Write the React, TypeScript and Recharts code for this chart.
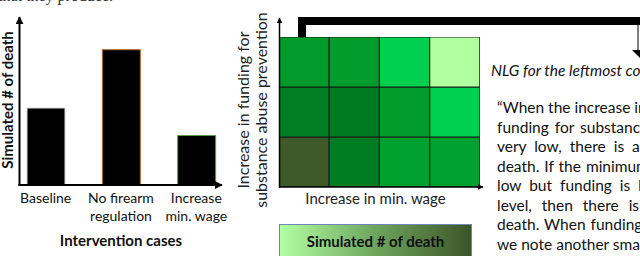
import React from 'react';
import { BarChart, Bar, XAxis, YAxis, Cell, Label } from 'recharts';

// ─── Data ─────────────────────────────────────────────────────────────────────

const CASES = ['Baseline', 'No firearm\nregulation', 'Increase\nmin. wage'];
const DEATHS = [70, 123, 45];
const OUTLINES = ['#d8d8d8', '#b8642a', '#5f9a45'];

const WAGE_LEVELS = ['w1', 'w2', 'w3', 'w4'];
const FUNDING_KEYS = ['low', 'mid', 'high']; // bottom → top
// colour of each cell (rows = funding low→high, cols = wage low→high)
const CELL_COLORS = [
  ['#3d5a28', '#007d22', '#00a12f', '#00a12f'],
  ['#007e21', '#007a20', '#009d2c', '#00d04f'],
  ['#009b2b', '#009d2c', '#00d04f', '#b0ffa0'],
];

const NLG_LINES = [
  '\u201CWhen the increase in',
  'funding for substance',
  'very low, there is a',
  'death. If the minimum',
  'low but funding is b',
  'level, then there is',
  'death. When funding',
  'we note another small',
];
const NLG_SPACING = [0, 2, 4, 1, 4, 6, 1, 0];

const FONT = 'Lato, "Open Sans", sans-serif';

// ─── Bar chart ────────────────────────────────────────────────────────────────

function CaseTick({ x, y, payload }: any) {
  const lines = String(payload.value).split('\n');
  return (
    <text x={x} y={y} textAnchor="middle" fontFamily={FONT} fontSize={14} fill="#111">
      {lines.map((l, i) => (
        <tspan key={i} x={x} dy={i === 0 ? 10 : 18}>{l}</tspan>
      ))}
    </text>
  );
}

function CasesChart() {
  const data = CASES.map((c, i) => ({ name: c, deaths: DEATHS[i] }));
  return (
    <BarChart width={234} height={256} data={data} margin={{ top: 20, right: 0, left: 0, bottom: 0 }}
              barSize={38}>
      <XAxis dataKey="name" height={71} axisLine={false} tickLine={false} interval={0}
             tick={<CaseTick />}>
        <Label content={() => (
          <text x={121} y={246} textAnchor="middle" fontFamily={FONT} fontSize={15}
                fontWeight={700} fill="#111">Intervention cases</text>
        )} />
      </XAxis>
      <YAxis width={8} domain={[0, 150]} axisLine={false} tickLine={false} tick={false}>
        <Label content={() => (
          <text x={13} y={100} transform="rotate(-90 13 100)" textAnchor="middle" fontFamily={FONT}
                fontSize={15} fontWeight={700} fill="#111">Simulated # of death</text>
        )} />
      </YAxis>
      <Bar dataKey="deaths" isAnimationActive={false} fill="#000" strokeWidth={1}>
        {data.map((d, i) => <Cell key={d.name} fill="#000" stroke={OUTLINES[i]} />)}
      </Bar>
    </BarChart>
  );
}

// ─── Heat map ─────────────────────────────────────────────────────────────────

function HeatMap() {
  const data = WAGE_LEVELS.map((w) => {
    const row: any = { wage: w };
    FUNDING_KEYS.forEach((k) => { row[k] = 1; });
    return row;
  });
  return (
    <BarChart width={201} height={150} data={data} margin={{ top: 0, right: 0, left: 0, bottom: 0 }}
              barCategoryGap={0}>
      <XAxis dataKey="wage" hide />
      <YAxis hide domain={[0, 3]} />
      {FUNDING_KEYS.map((k, r) => (
        <Bar key={k} dataKey={k} stackId="cells" isAnimationActive={false} stroke="#1a1a1a" strokeWidth={1}>
          {data.map((d, c) => <Cell key={d.wage} fill={CELL_COLORS[r][c]} />)}
        </Bar>
      ))}
    </BarChart>
  );
}

// ─── Page ─────────────────────────────────────────────────────────────────────

export default function App() {
  return (
    <div style={{ position: 'absolute', left: 0, top: 0, width: 640, height: 256, overflow: 'hidden',
                  background: '#fff', fontFamily: FONT }}>
      {/* caption remnant from the page above */}
      <div style={{ position: 'absolute', left: -2, top: -13, fontFamily: '"Liberation Serif", serif',
                    fontSize: 16, color: '#333', whiteSpace: 'nowrap' }}>that they produce.</div>

      <div style={{ position: 'absolute', left: 0, top: 0 }}><CasesChart /></div>

      <div style={{ position: 'absolute', left: 279, top: 37 }}><HeatMap /></div>

      {/* heat map axis titles */}
      <div style={{ position: 'absolute', left: 270, top: 189, width: 211, textAlign: 'center',
                    fontSize: 15, color: '#222', whiteSpace: 'nowrap' }}>Increase in min. wage</div>
      <div style={{ position: 'absolute', left: 254 - 100, top: 110 - 20, width: 200, height: 40,
                    transform: 'rotate(-90deg)', textAlign: 'center', fontSize: 16, lineHeight: '18px',
                    color: '#222', whiteSpace: 'nowrap' }}>
        Increase in funding for<br />substance abuse prevention
      </div>

      {/* colour scale */}
      <div style={{ position: 'absolute', left: 279, top: 224, width: 193, height: 34, boxSizing: 'border-box',
                    border: '1px solid #6f86b8', background: 'linear-gradient(to right, #b2ffa2, #6ea55e 50%, #3c5527)',
                    textAlign: 'center', lineHeight: '32px', fontWeight: 700, fontSize: 15, color: '#111' }}>
        Simulated # of death
      </div>

      {/* generated text */}
      <div style={{ position: 'absolute', left: 491, top: 61, fontStyle: 'italic', fontSize: 15.5,
                    whiteSpace: 'nowrap', color: '#111' }}>NLG for the leftmost column</div>
      {NLG_LINES.map((l, i) => (
        <div key={i} style={{ position: 'absolute', left: 497, top: 98 + i * 19.5, fontSize: 15.5,
                              whiteSpace: 'nowrap', wordSpacing: NLG_SPACING[i], color: '#111' }}>{l}</div>
      ))}

      {/* axes arrows and connector */}
      <svg width={640} height={256} style={{ position: 'absolute', left: 0, top: 0, pointerEvents: 'none' }}>
        <defs>
          <marker id="ah" viewBox="0 0 10 10" refX="9" refY="5" markerWidth="4" markerHeight="4" orient="auto">
            <path d="M0,0 L10,5 L0,10 z" fill="#000" />
          </marker>
        </defs>
        <line x1={19.5} y1={186} x2={19.5} y2={17} stroke="#000" strokeWidth={2} markerEnd="url(#ah)" />
        <line x1={18.5} y1={185} x2={222} y2={185} stroke="#000" strokeWidth={2} markerEnd="url(#ah)" />
        <line x1={279.5} y1={188} x2={279.5} y2={18} stroke="#000" strokeWidth={1.5} markerEnd="url(#ah)" />
        <line x1={279} y1={187} x2={483} y2={187} stroke="#000" strokeWidth={1.5} markerEnd="url(#ah)" />
        <path d="M302,37 L302,21 L645,21" fill="none" stroke="#000" strokeWidth={8} />
        <line x1={638} y1={25} x2={638} y2={52} stroke="#000" strokeWidth={1} />
        <path d="M632,50 L640,50 L640,58 z" fill="#000" />
      </svg>
    </div>
  );
}
